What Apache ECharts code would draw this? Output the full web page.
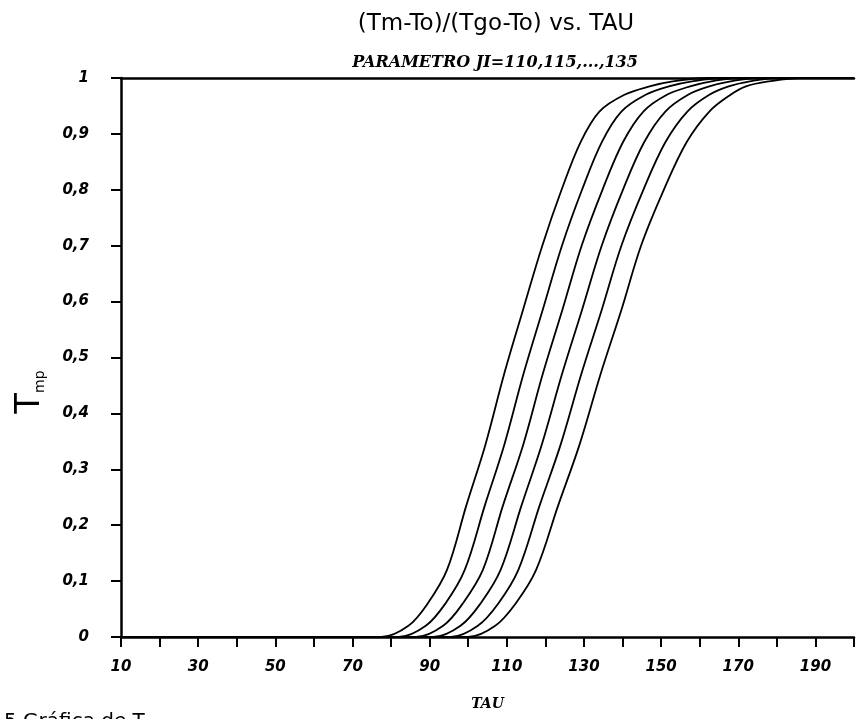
<!DOCTYPE html>
<html>
<head>
<meta charset="utf-8">
<title>(Tm-To)/(Tgo-To) vs. TAU</title>
<script src="https://cdn.jsdelivr.net/npm/echarts@6/dist/echarts.min.js"></script>
<style>
html,body{margin:0;padding:0;background:#fff;}
#chartTau{width:857px;height:719px;}
</style>
</head>
<body>
<div id="chartTau"></div>
<script>
// niveles de T (eje y) comunes a todas las curvas
var yLevels = [0, 0, 0.02, 0.06, 0.12, 0.235, 0.345, 0.47, 0.585, 0.70, 0.80, 0.885, 0.94, 0.97, 0.985, 0.994, 1, 1];
var tau110 = [10, 77.5, 84.5, 89.5, 94.5, 99.5, 104.5, 109.3, 114.2, 119.2, 124.2, 129.1, 134, 140.5, 147, 153, 162, 200];
var tau115 = [10, 82, 89, 94.1, 99.1, 104.3, 109.4, 114.3, 119.3, 124.3, 129.5, 134.6, 139.7, 146, 152, 158, 166, 200];
var tau120 = [10, 86.5, 93.5, 98.6, 103.8, 109, 114.3, 119.3, 124.4, 129.4, 134.8, 140.1, 145.4, 151.5, 157.5, 163, 170, 200];
var tau125 = [10, 91, 98, 103.2, 108.4, 113.8, 119.1, 124.3, 129.5, 134.6, 140.1, 145.6, 151.1, 157, 162.5, 168, 175, 200];
var tau130 = [10, 95.5, 102.5, 107.8, 113, 118.5, 124, 129.3, 134.6, 139.7, 145.4, 151.1, 156.8, 162.5, 167.5, 173, 180, 200];
var tau135 = [10, 100, 107, 112.3, 117.6, 123.3, 128.9, 134.3, 139.7, 144.8, 150.7, 156.6, 162.5, 168, 172, 178, 186, 200];
var curveNames = ['JI=110', 'JI=115', 'JI=120', 'JI=125', 'JI=130', 'JI=135'];

var xLabels = [10, 30, 50, 70, 90, 110, 130, 150, 170, 190];
var yLabels = ['0', '0,1', '0,2', '0,3', '0,4', '0,5', '0,6', '0,7', '0,8', '0,9', '1'];

var tickFont = {
	color: '#000',
	fontFamily: 'DejaVu Sans',
	fontWeight: 'bold',
	fontStyle: 'italic',
	fontSize: 15
};

// pequeno sustituto de $.extend para no cargar jQuery
var $ = {extend: function(a, b){
	for(var k in b){ if(b.hasOwnProperty(k)){ a[k] = b[k]; } }
	return a;
}};

function buildPairs(taus){
	var pts = [];
	for(var i=0;i<taus.length;i++){
		pts.push([taus[i], yLevels[i]]);
	}
	return pts;
}

function showChartTau(){
	var allTaus = [tau110, tau115, tau120, tau125, tau130, tau135];
	var series = [];
	for(var i=0;i<allTaus.length;i++){
		series.push({
			name: curveNames[i],
			type: 'line',
			data: buildPairs(allTaus[i]),
			showSymbol: false,
			smooth: 0.35,
			lineStyle: {color: '#000', width: 1.8},
			z: 3
		});
	}

	var option = {
		animation: false,
		backgroundColor: '#fff',
		title: [{
			text: '(Tm-To)/(Tgo-To) vs. TAU',
			left: 491,
			top: 8,
			textAlign: 'center',
			textStyle: {color: '#000', fontFamily: 'DejaVu Sans', fontWeight: 'normal', fontSize: 23}
		}, {
			text: 'PARAMETRO JI=110,115,...,135',
			left: 490,
			top: 50,
			textAlign: 'center',
			textStyle: {color: '#000', fontFamily: 'DejaVu Serif', fontWeight: 'bold', fontStyle: 'italic', fontSize: 16}
		}],
		grid: {left: 121, right: -8, top: 78, bottom: 82},
		xAxis: [{
			type: 'value',
			min: 10,
			max: 200,
			interval: 10,
			name: 'TAU',
			nameLocation: 'middle',
			nameGap: 60,
			nameTextStyle: {color: '#000', fontFamily: 'DejaVu Serif', fontWeight: 'bold', fontStyle: 'italic', fontSize: 14},
			axisLine: {lineStyle: {color: '#000', width: 2.5}},
			axisTick: {show: true, inside: false, length: 10, lineStyle: {color: '#000', width: 2}},
			splitLine: {show: false},
			axisLabel: $.extend({
				margin: 23,
				formatter: function(v){
					return xLabels.indexOf(v) >= 0 ? String(v) : '';
				}
			}, tickFont)
		}, {
			// borde superior del marco
			type: 'value',
			position: 'top',
			min: 10,
			max: 200,
			axisLine: {show: true, lineStyle: {color: '#000', width: 2.5}},
			axisTick: {show: false},
			axisLabel: {show: false},
			splitLine: {show: false}
		}],
		yAxis: {
			type: 'value',
			min: 0,
			max: 1,
			interval: 0.1,
			axisLine: {show: true, lineStyle: {color: '#000', width: 2.5}},
			axisTick: {show: true, inside: false, length: 10, lineStyle: {color: '#000', width: 2}},
			splitLine: {show: false},
			axisLabel: $.extend({
				margin: 32,
				formatter: function(v){
					return yLabels[Math.round(v*10)];
				}
			}, tickFont)
		},
		graphic: [{
			type: 'text',
			x: 30,
			y: 392,
			rotation: Math.PI/2,
			style: {
				text: '{t|T}{s|mp}',
				align: 'center',
				verticalAlign: 'middle',
				fill: '#000',
				rich: {
					t: {fontFamily: 'DejaVu Sans', fontSize: 34, fill: '#000'},
					s: {fontFamily: 'DejaVu Sans', fontSize: 14, fill: '#000', verticalAlign: 'bottom', padding: [14, 0, 0, 0]}
				}
			}
		}, {
			type: 'text',
			x: 4,
			y: 712,
			style: {
				text: '5 Gráfica de T',
				fill: '#000',
				fontFamily: 'DejaVu Sans',
				fontSize: 20
			}
		}],
		series: series
	};
	var myChart = echarts.init(document.getElementById('chartTau'));
	myChart.setOption(option);
}

showChartTau();
</script>
</body>
</html>
